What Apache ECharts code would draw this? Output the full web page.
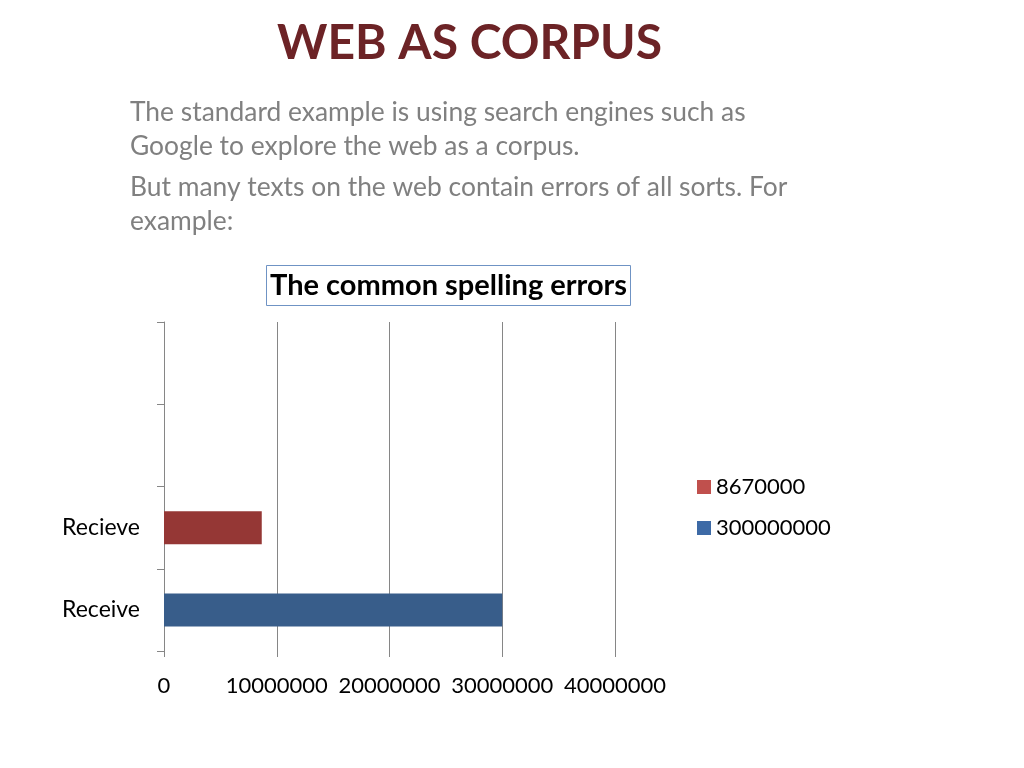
<!DOCTYPE html>
<html><head><meta charset="utf-8">
<script src="https://cdn.jsdelivr.net/npm/echarts@6/dist/echarts.min.js"></script>
<style>html,body{margin:0;padding:0;background:#fff}#c{width:1024px;height:768px}</style>
</head><body><div id="c"></div>
<script>
const categories = ['Receive', 'Recieve', ' ', '  '];
const seriesNames = ['8670000', '300000000'];
const redValues = [null, 8670000, null, null];
const blueValues = [30000000, null, null, null];
const xTicks = [0, 10000000, 20000000, 30000000, 40000000];
const bodyLines = [
  'The standard example is using search engines such as',
  'Google to explore the web as a corpus.',
  'But many texts on the web contain errors of all sorts. For',
  'example:'
];
const FONT = 'Lato, "Open Sans", sans-serif';
const chart = echarts.init(document.getElementById('c'));
const lineY = [112, 146, 187, 221];
chart.setOption({
  animation: false,
  backgroundColor: '#fff',
  title: {
    text: 'The common spelling errors',
    left: 266, top: 265,
    padding: [5, 4, 5, 4],
    borderColor: '#6f93c4', borderWidth: 1,
    textStyle: {fontFamily: FONT, fontSize: 29, lineHeight: 31, fontWeight: 'bold', color: '#000'}
  },
  graphic: [
    {type: 'text', left: 277, top: 20, style: {text: 'WEB AS CORPUS', fill: '#6c2326', font: 'bold 48px ' + FONT}}
  ].concat(bodyLines.map((t, i) => ({
    type: 'text', left: 130, top: lineY[i] - 13,
    style: {text: t, fill: '#808080', font: '26.4px ' + FONT}
  }))),
  legend: {
    orient: 'vertical', left: 692, top: 471, itemGap: 19,
    itemWidth: 14, itemHeight: 14, icon: 'rect',
    textStyle: {fontFamily: FONT, fontSize: 22, color: '#000'},
    data: [
      {name: seriesNames[0], itemStyle: {color: '#c0504d'}},
      {name: seriesNames[1], itemStyle: {color: '#3d6aa6'}}
    ]
  },
  grid: {left: 164, right: 409, top: 322, bottom: 117, containLabel: false},
  xAxis: {
    type: 'value', min: xTicks[0], max: xTicks[xTicks.length - 1], interval: xTicks[1] - xTicks[0],
    axisLine: {show: false},
    axisTick: {show: true, length: 6, lineStyle: {color: '#868686'}},
    splitLine: {show: true, lineStyle: {color: '#868686', width: 1}},
    axisLabel: {fontFamily: FONT, fontSize: 22, color: '#000', margin: 24, formatter: v => String(v)}
  },
  yAxis: {
    type: 'category', data: categories,
    axisLine: {show: true, lineStyle: {color: '#868686'}},
    axisTick: {show: true, length: 7, lineStyle: {color: '#868686'}},
    axisLabel: {fontFamily: FONT, fontSize: 23, color: '#000', margin: 24}
  },
  series: [
    {name: seriesNames[0], type: 'bar', stack: 'a', data: redValues, barWidth: 33, itemStyle: {color: '#953735'}},
    {name: seriesNames[1], type: 'bar', stack: 'a', data: blueValues, barWidth: 33, itemStyle: {color: '#385d8a'}}
  ]
});
</script></body></html>
